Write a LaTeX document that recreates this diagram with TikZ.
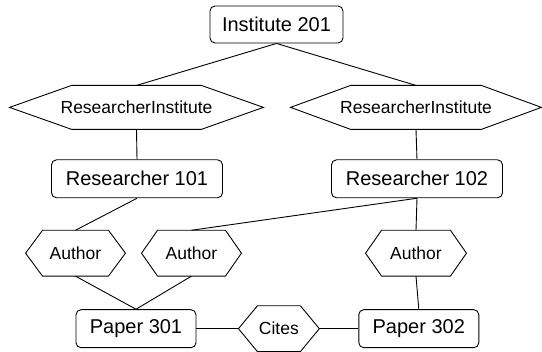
\documentclass[tikz,border=0pt]{standalone}
\usepackage{fontspec}
\setmainfont{Liberation Sans}
\usetikzlibrary{positioning}

\begin{document}
\begin{tikzpicture}[line width=0.9pt,
		entity/.style={shape=rectangle,draw,rounded corners=5pt,
			minimum height=38pt,inner sep=0pt,font=\fontsize{20}{24}\selectfont},
		relation/.style={shape=rectangle,minimum height=#1,inner sep=0pt,
			font=\fontsize{17.5}{21}\selectfont}]
		\useasboundingbox (0,0) rectangle (542pt,352pt);
		% create the nodes
		\node[entity,minimum width=133pt,minimum height=37pt] (institute) 
			at (276.5pt,327.5pt) {Institute 201};
		\node[relation=43pt,minimum width=253pt] (resinst1) 
			[below=42pt of institute,xshift=-140pt] {ResearcherInstitute};
		\node[relation=43pt,minimum width=250pt] (resinst2) 
			[below=42pt of institute,xshift=139.5pt] {ResearcherInstitute};
		\node[entity,minimum width=171pt] (researcher1) 
			[below=30pt of resinst1,xshift=0.5pt] {Researcher 101};
		\node[entity,minimum width=171pt] (researcher2) 
			[below=30pt of resinst2,xshift=1pt] {Researcher 102};
		\node[relation=45pt,minimum width=99pt] (author1) 
			[below=32pt of researcher1,xshift=-61.5pt] {Author};
		\node[relation=45pt,minimum width=99pt] (author2) 
			[below=32pt of researcher1,xshift=54.5pt] {Author};
		\node[relation=45pt,minimum width=100pt] (author3) 
			[below=32pt of researcher2,xshift=-1pt] {Author};
		\node[entity,minimum width=120pt] (paper1) 
			[below=111pt of researcher1,xshift=-1pt] {Paper 301};
		\node[relation=45pt,minimum width=80pt] (cites) 
			[right=42pt of paper1] {Cites};
		\node[entity,minimum width=120pt] (paper2) 
			[right=39pt of cites] {Paper 302};

		% outline the relations
		\foreach \rel/\cut in {resinst1/62pt,resinst2/60pt,author1/17pt,
			author2/16pt,author3/16pt,cites/19pt}
			\draw[line join=miter] (\rel.west) -- ([xshift=\cut]\rel.north west) 
			-- ([xshift=-\cut]\rel.north east) -- (\rel.east) 
			-- ([xshift=-\cut]\rel.south east) -- ([xshift=\cut]\rel.south west) 
			-- cycle;

		% connect the nodes
		\draw (institute.south) -- (resinst1.north);
		\draw (institute.south) -- (resinst2.north);
		\draw (resinst1.south) -- (researcher1.north);
		\draw (resinst2.south) -- (researcher2.north);
		\draw (researcher1.south) -- (author1.north);
		\draw (researcher2.south) -- (author2.north);
		\draw (researcher2.south) -- (author3.north);
		\draw (author1.south) -- (paper1.north);
		\draw (author2.south) -- (paper1.north);
		\draw (author3.south) -- (paper2.north);
		\draw (paper1.east) -- (cites.west);
		\draw (cites.east) -- (paper2.west);

	\end{tikzpicture}
\end{document}
